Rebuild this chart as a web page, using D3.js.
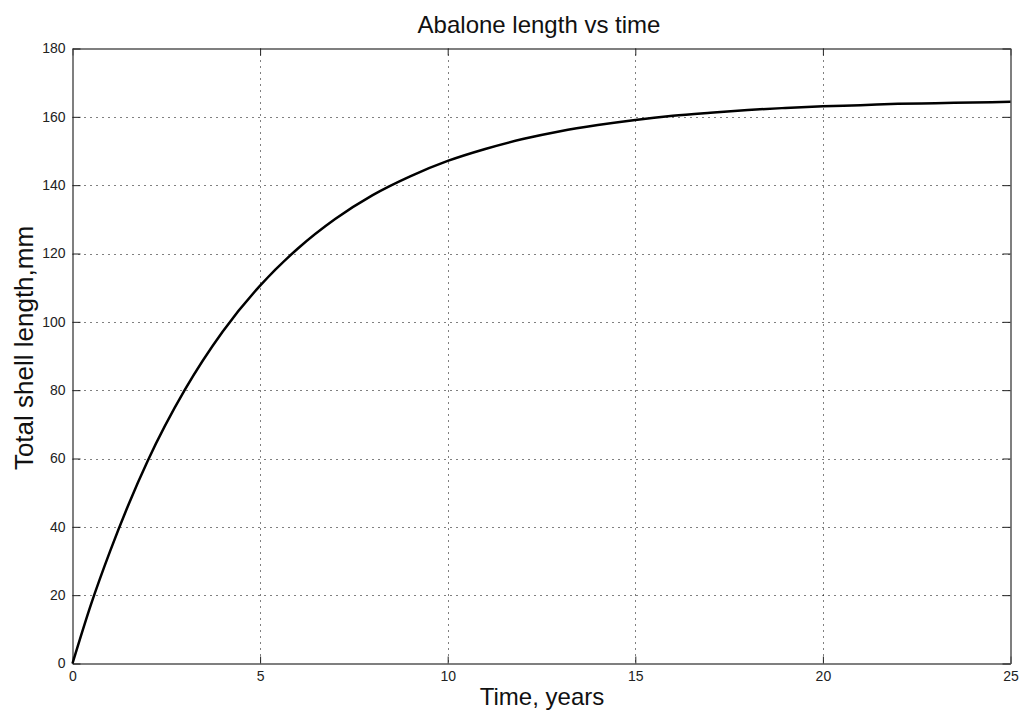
<!DOCTYPE html>
<html>
<head>
<meta charset="utf-8">
<script src="https://cdn.jsdelivr.net/npm/d3@7"></script>
<style>
  body { margin: 0; background: #fff; }
  svg { display: block; font-family: "Liberation Sans", Arial, sans-serif; }
</style>
</head>
<body>
<svg width="1019" height="713"></svg>
<script>
// values
var years = [0, 0.5, 1, 1.5, 2, 3, 4, 5, 6, 7, 8, 9, 10, 11, 12, 13, 14, 15, 16, 17, 18, 19, 20, 21, 22, 23, 24, 25];
var lengths = [0, 17.5, 32.8, 46.7, 59.2, 80.2, 97.1, 110.6, 121.4, 130.1, 137.1, 142.6, 147.1, 150.6, 153.5, 155.8, 157.6, 159.1, 160.3, 161.2, 162.0, 162.6, 163.1, 163.4, 163.8, 164.0, 164.2, 164.4];
var xTicks = [0, 5, 10, 15, 20, 25];
var yTicks = [0, 20, 40, 60, 80, 100, 120, 140, 160, 180];

var svg = d3.select("svg");
var plotL = 72.5, plotR = 1010.5, plotT = 48.5, plotB = 663.5;

var x = d3.scaleLinear().domain([0, 25]).range([plotL, plotR]);
var y = d3.scaleLinear().domain([0, 180]).range([plotB, plotT]);

var data = years.map(function(t, i) { return { t: t, v: lengths[i] }; });

// grid
var grid = svg.append("g").attr("stroke", "#000").attr("stroke-width", 1).attr("stroke-dasharray", "1,5");
grid.selectAll(".gx").data(xTicks.slice(1, -1)).enter().append("line")
    .attr("x1", function(d) { return Math.round(x(d)) + 0.5; })
    .attr("x2", function(d) { return Math.round(x(d)) + 0.5; })
    .attr("y1", plotT).attr("y2", plotB);
grid.selectAll(".gy").data(yTicks.slice(1, -1)).enter().append("line")
    .attr("y1", function(d) { return Math.round(y(d)) + 0.5; })
    .attr("y2", function(d) { return Math.round(y(d)) + 0.5; })
    .attr("x1", plotL).attr("x2", plotR);

// axes (ticks pointing inward, matlab style)
var xAxis = svg.append("g").attr("transform", "translate(0," + plotB + ")")
    .call(d3.axisBottom(x).tickValues(xTicks).tickSizeInner(-7).tickSizeOuter(0).tickPadding(8));
var xTop = svg.append("g").attr("transform", "translate(0," + plotT + ")")
    .call(d3.axisTop(x).tickValues(xTicks).tickSizeInner(-7).tickSizeOuter(0).tickFormat(""));
var yAxis = svg.append("g").attr("transform", "translate(" + plotL + ",0)")
    .call(d3.axisLeft(y).tickValues(yTicks).tickSizeInner(-8).tickSizeOuter(0).tickPadding(7));
var yRight = svg.append("g").attr("transform", "translate(" + plotR + ",0)")
    .call(d3.axisRight(y).tickValues(yTicks).tickSizeInner(-8).tickSizeOuter(0).tickFormat(""));

[xAxis, xTop, yAxis, yRight].forEach(function(a) {
  a.attr("font-size", 14).attr("font-family", "Liberation Sans, Arial, sans-serif");
  a.select(".domain").attr("stroke", "#555").attr("stroke-width", 1.5);
  a.selectAll(".tick line").attr("stroke", "#222");
  a.selectAll(".tick text").attr("fill", "#222");
});

// curve
var line = d3.line()
    .x(function(d) { return x(d.t); })
    .y(function(d) { return y(d.v); })
    .curve(d3.curveMonotoneX);

svg.append("path").datum(data)
    .attr("d", line)
    .attr("fill", "none")
    .attr("stroke", "#000")
    .attr("stroke-width", 2.5);

// texts
svg.append("text").attr("x", 539).attr("y", 33).attr("text-anchor", "middle")
    .attr("font-size", 24).attr("fill", "#111").text("Abalone length vs time");
svg.append("text").attr("x", 542).attr("y", 705).attr("text-anchor", "middle")
    .attr("font-size", 24).attr("fill", "#111").text("Time, years");
svg.append("text").attr("transform", "translate(33,348) rotate(-90)").attr("text-anchor", "middle")
    .attr("font-size", 26).attr("fill", "#111").text("Total shell length,mm");
</script>
</body>
</html>
